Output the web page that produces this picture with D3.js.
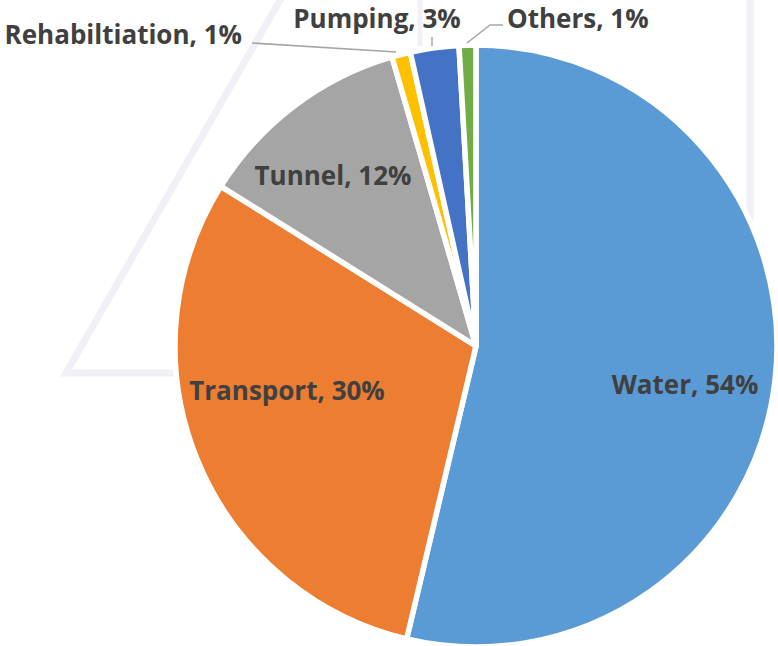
<!DOCTYPE html>
<html>
<head>
<meta charset="utf-8">
<script src="https://cdn.jsdelivr.net/npm/d3@7"></script>
<style>
  body { margin: 0; background: #fff; }
  svg { display: block; }
</style>
</head>
<body>
<div id="chart"></div>
<script>
// data
var categories = ["Water", "Transport", "Tunnel", "Rehabiltiation", "Pumping", "Others"];
var shares = [53.7, 30.2, 11.6, 1.0, 2.6, 0.9];
var colors = ["#5B9BD5", "#ED7D31", "#A5A5A5", "#FFC000", "#4472C4", "#70AD47"];

var width = 778, height = 646;
var cx = 476, cy = 346, radius = 301;

var svg = d3.select("#chart")
    .append("svg")
    .attr("width", width)
    .attr("height", height);

// faint background shape behind the chart
var bg = svg.append("g")
    .attr("fill", "none")
    .attr("stroke", "#f0f0f6")
    .attr("stroke-width", 7);
bg.append("path").attr("d", "M 283 -5 L 66 373 L 200 373");
bg.append("path").attr("d", "M 750 0 L 750 230");
bg.append("path").attr("d", "M 420 0 L 420 46").attr("stroke-width", 5);

var total = d3.sum(shares);
var data = categories.map(function (c, i) {
    return { name: c, value: shares[i], color: colors[i] };
});

var pie = d3.pie()
    .sort(null)
    .value(function (d) { return d.value; });

var arc = d3.arc()
    .innerRadius(0)
    .outerRadius(radius);

var arcs = pie(data);

var g = svg.append("g")
    .attr("transform", "translate(" + cx + "," + cy + ")");

g.selectAll("path.slice")
    .data(arcs)
    .enter()
    .append("path")
    .attr("class", "slice")
    .attr("d", arc)
    .attr("fill", function (d) { return d.data.color; })
    .attr("stroke", "#fff")
    .attr("stroke-width", 5.5)
    .attr("stroke-linejoin", "round");

function label(d) {
    return d.data.name + ", " + Math.round(d.data.value / total * 100) + "%";
}

// label placement relative to the pie centre
var labelPos = {
    "Water":          { x: 209, y: 48, anchor: "middle" },
    "Transport":      { x: -189, y: 54, anchor: "middle" },
    "Tunnel":         { x: -143, y: -161, anchor: "middle" },
    "Rehabiltiation": { x: -234, y: -302, anchor: "end", line: [[-224, -303], [-80, -294]] },
    "Pumping":        { x: -99, y: -318, anchor: "middle", line: [[-44, -309], [-44, -300]] },
    "Others":         { x: 31, y: -318, anchor: "start", line: [[27, -321], [14, -321], [-9, -303]] }
};

g.selectAll("path.leader")
    .data(arcs.filter(function (d) { return labelPos[d.data.name].line; }))
    .enter()
    .append("path")
    .attr("class", "leader")
    .attr("d", function (d) { return d3.line()(labelPos[d.data.name].line); })
    .attr("fill", "none")
    .attr("stroke", "#a6a6a6")
    .attr("stroke-width", 1.5);

g.selectAll("text.lbl")
    .data(arcs)
    .enter()
    .append("text")
    .attr("class", "lbl")
    .attr("x", function (d) { return labelPos[d.data.name].x; })
    .attr("y", function (d) { return labelPos[d.data.name].y; })
    .attr("text-anchor", function (d) { return labelPos[d.data.name].anchor; })
    .style("font-family", "'Open Sans', sans-serif")
    .style("font-weight", "bold")
    .style("font-size", "26px")
    .style("fill", "#404040")
    .text(label);
</script>
</body>
</html>
